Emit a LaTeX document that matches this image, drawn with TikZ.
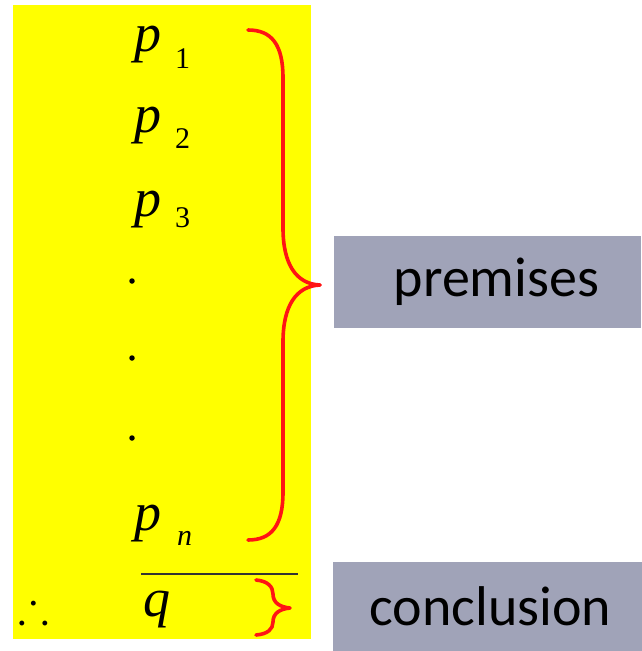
\documentclass[tikz,border=0pt]{standalone}
\usepackage{fontspec}
\usepackage{amssymb}
\setmainfont{Liberation Serif}
\newfontfamily\labelfont{Carlito}
\definecolor{boxgray}{RGB}{160,163,184}
\definecolor{bgyellow}{RGB}{255,255,0}
\definecolor{bracered}{RGB}{255,20,20}
\begin{document}
\begin{tikzpicture}[x=1pt,y=-1pt,
  sym/.style={inner sep=0pt, anchor=base west, font=\fontsize{54}{54}\selectfont\itshape},
  subup/.style={inner sep=0pt, anchor=base west, font=\fontsize{30}{30}\selectfont},
  subit/.style={inner sep=0pt, anchor=base west, font=\fontsize{30}{30}\selectfont\itshape},
  dotnode/.style={circle, fill=black, inner sep=0pt, minimum size=5.5pt},
  labelbox/.style={fill=boxgray, inner sep=0pt, font=\labelfont\fontsize{56}{56}\selectfont},
  brace/.style={draw=bracered, line width=3.6pt, line cap=round, line join=round}]
\useasboundingbox (0,0) rectangle (641,651);
\fill[bgyellow] (13,5) rectangle (311,639);
% premises
\node[sym] (p1) at (134,51) {p};
\node[subup] (s1) at (175,68) {1};
\node[sym] (p2) at (134,132) {p};
\node[subup] (s2) at (175,148) {2};
\node[sym] (p3) at (134,216) {p};
\node[subup] (s3) at (175,227) {3};
\node[dotnode] (d1) at (132,281) {};
\node[dotnode] (d2) at (132,358) {};
\node[dotnode] (d3) at (132,438) {};
\node[sym] (pn) at (134,530) {p};
\node[subit] (sn) at (177,545) {n};
% conclusion line
\coordinate (la) at (141,574);
\coordinate (lb) at (298,574);
\draw[line width=2pt, black!80] (la) -- (lb);
\node[sym] (q) at (143,616) {q};
\node[inner sep=0pt, anchor=center] (therefore) at (34,607) {\fontsize{46}{46}\selectfont$\therefore$};
% braces
\draw[brace] (248,30) .. controls (272,30) and (283,45) .. (283,78) -- (283,228)
  .. controls (283,264) and (296,284) .. (320,285);
\draw[brace] (320,285) .. controls (296,286) and (283,306) .. (283,342) -- (283,492)
  .. controls (283,525) and (272,540) .. (248,540);
\draw[brace] (256,580) .. controls (268,581) and (273,587) .. (273,594)
  .. controls (273,603) and (280,607) .. (290,608)
  .. controls (280,609) and (273,613) .. (273,622)
  .. controls (273,629) and (268,634) .. (256,635);
% label boxes
\node[labelbox, minimum width=307pt, minimum height=92pt] (prem) at (487.5,282) {\hspace*{18pt}premises};
\node[labelbox, minimum width=309pt, minimum height=89pt] (conc) at (487.5,606.5) {\hspace*{6pt}conclusion};
\end{tikzpicture}
\end{document}
